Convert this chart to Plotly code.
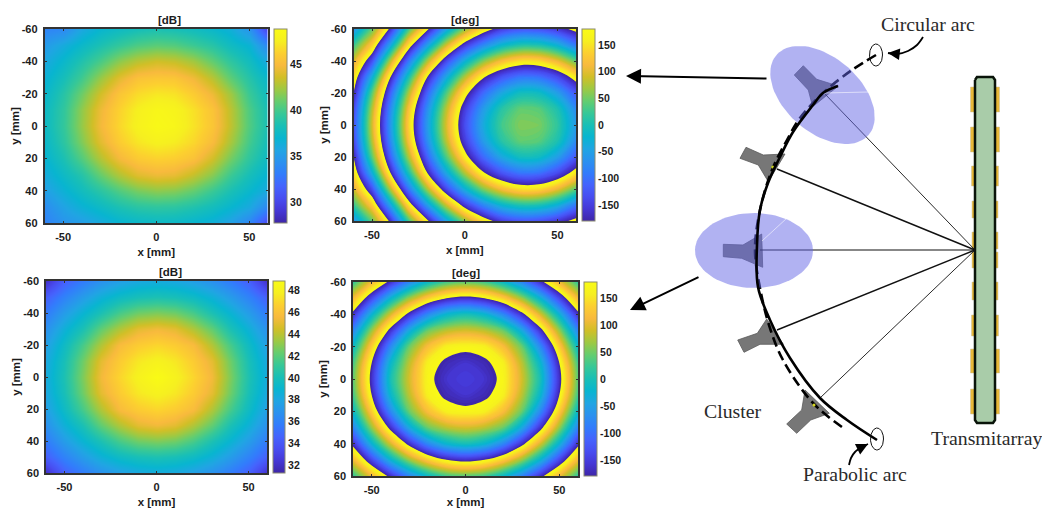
import numpy as np
import plotly.graph_objects as go

W, H = 1042, 508

# ---------- heat-map data (10 mm grid) ----------
X_MM = [-60, -50, -40, -30, -20, -10, 0, 10, 20, 30, 40, 50, 60]
Y_MM = [-60, -50, -40, -30, -20, -10, 0, 10, 20, 30, 40, 50, 60]

TOP_DB = [
    [33.5, 33.8, 35.8, 37.0, 37.6, 38.1, 38.4, 38.2, 37.8, 37.2, 36.4, 34.5, 29.5],
    [34.9, 36.1, 37.3, 38.4, 39.4, 40.2, 40.6, 40.4, 39.7, 38.9, 37.7, 36.7, 33.5],
    [35.8, 37.2, 38.6, 40.1, 41.8, 42.9, 43.5, 43.2, 42.3, 40.8, 39.2, 37.8, 35.8],
    [36.6, 38.1, 39.8, 42.1, 44.1, 45.4, 45.7, 45.6, 44.6, 42.9, 40.7, 38.8, 37.1],
    [37.1, 38.9, 41.1, 43.6, 45.6, 46.7, 47.2, 47.0, 46.0, 44.5, 42.3, 39.6, 37.7],
    [37.5, 39.3, 41.9, 44.5, 46.3, 47.6, 48.3, 48.0, 46.9, 45.5, 43.0, 40.2, 38.1],
    [37.5, 39.4, 42.0, 44.7, 46.5, 47.8, 48.5, 48.2, 47.0, 45.6, 43.1, 40.3, 38.2],
    [37.2, 39.1, 41.5, 44.1, 46.0, 47.1, 47.7, 47.4, 46.5, 45.0, 42.5, 39.9, 37.9],
    [36.8, 38.4, 40.4, 42.8, 44.8, 45.9, 46.3, 46.1, 45.4, 43.6, 41.3, 39.2, 37.5],
    [36.1, 37.5, 38.8, 40.9, 42.7, 44.0, 44.5, 44.3, 43.2, 41.7, 39.7, 38.1, 36.7],
    [35.2, 36.6, 37.8, 39.0, 40.3, 41.3, 41.8, 41.6, 40.8, 39.6, 38.3, 37.1, 35.8],
    [34.0, 35.5, 36.6, 37.5, 38.4, 39.0, 39.2, 39.1, 38.6, 37.9, 37.0, 35.9, 33.5],
    [33.4, 34.5, 35.1, 36.0, 36.8, 37.2, 37.4, 37.3, 36.9, 36.4, 35.3, 33.5, 30.0],
]
# Phase is stored unwrapped; the colour scale repeats every 360 degrees.
TOP_DEG = [
    [-1510, -1400, -1245, -1050, -908, -770, -660, -572, -510, -487, -490, -515, -558],
    [-1420, -1310, -1125, -927, -772, -632, -516, -437, -380, -353, -356, -388, -451],
    [-1350, -1215, -1000, -810, -644, -500, -390, -302, -242, -211, -214, -252, -317],
    [-1300, -1115, -900, -714, -537, -402, -283, -186, -125, -93, -97, -135, -204],
    [-1262, -1042, -834, -642, -470, -326, -200, -104, -40, -4, -8, -50, -121],
    [-1226, -1004, -794, -596, -427, -280, -151, -54, 14, 46, 41, 6, -71],
    [-1215, -990, -780, -580, -413, -265, -134, -36, 30, 59, 56, 20, -54],
    [-1226, -1004, -794, -596, -427, -280, -151, -54, 14, 46, 41, 6, -71],
    [-1262, -1042, -834, -642, -470, -326, -200, -104, -40, -4, -8, -50, -121],
    [-1300, -1115, -900, -714, -537, -402, -283, -186, -125, -93, -97, -135, -204],
    [-1350, -1215, -1000, -810, -644, -500, -390, -302, -242, -211, -214, -252, -317],
    [-1420, -1310, -1125, -927, -772, -632, -516, -437, -380, -353, -356, -388, -451],
    [-1510, -1400, -1245, -1050, -908, -770, -660, -572, -510, -487, -490, -515, -558],
]
BOTTOM_DB = [
    [32.1, 34.4, 35.7, 36.8, 37.6, 38.1, 38.3, 38.1, 37.6, 36.8, 35.7, 34.4, 32.1],
    [34.4, 36.0, 37.4, 38.6, 39.5, 40.0, 40.2, 40.0, 39.5, 38.6, 37.4, 36.0, 34.4],
    [35.7, 37.4, 38.9, 40.2, 41.6, 42.5, 42.8, 42.5, 41.6, 40.2, 38.9, 37.4, 35.7],
    [36.8, 38.6, 40.2, 42.2, 43.8, 45.0, 45.4, 45.0, 43.8, 42.2, 40.2, 38.6, 36.8],
    [37.6, 39.5, 41.6, 43.8, 45.7, 46.5, 46.9, 46.5, 45.7, 43.8, 41.6, 39.5, 37.6],
    [38.1, 40.0, 42.5, 45.0, 46.5, 47.5, 48.0, 47.5, 46.5, 45.0, 42.5, 40.0, 38.1],
    [38.3, 40.2, 42.8, 45.4, 46.9, 48.0, 48.8, 48.0, 46.9, 45.4, 42.8, 40.2, 38.3],
    [38.1, 40.0, 42.5, 45.0, 46.5, 47.5, 48.0, 47.5, 46.5, 45.0, 42.5, 40.0, 38.1],
    [37.6, 39.5, 41.6, 43.8, 45.7, 46.5, 46.9, 46.5, 45.7, 43.8, 41.6, 39.5, 37.6],
    [36.8, 38.6, 40.2, 42.2, 43.8, 45.0, 45.4, 45.0, 43.8, 42.2, 40.2, 38.6, 36.8],
    [35.7, 37.4, 38.9, 40.2, 41.6, 42.5, 42.8, 42.5, 41.6, 40.2, 38.9, 37.4, 35.7],
    [34.4, 36.0, 37.4, 38.6, 39.5, 40.0, 40.2, 40.0, 39.5, 38.6, 37.4, 36.0, 34.4],
    [32.1, 34.4, 35.7, 36.8, 37.6, 38.1, 38.3, 38.1, 37.6, 36.8, 35.7, 34.4, 32.1],
]
BOTTOM_DEG = [
    [-1064, -970, -885, -800, -734, -693, -680, -693, -734, -800, -885, -970, -1064],
    [-970, -861, -746, -654, -586, -540, -523, -540, -586, -654, -746, -861, -970],
    [-885, -746, -627, -523, -435, -379, -360, -379, -435, -523, -627, -746, -885],
    [-800, -654, -523, -398, -311, -278, -266, -278, -311, -398, -523, -654, -800],
    [-734, -586, -435, -311, -240, -197, -190, -197, -240, -311, -435, -586, -734],
    [-693, -540, -379, -278, -197, -172, -160, -172, -197, -278, -379, -540, -693],
    [-680, -523, -360, -266, -190, -160, -150, -160, -190, -266, -360, -523, -680],
    [-693, -540, -379, -278, -197, -172, -160, -172, -197, -278, -379, -540, -693],
    [-734, -586, -435, -311, -240, -197, -190, -197, -240, -311, -435, -586, -734],
    [-800, -654, -523, -398, -311, -278, -266, -278, -311, -398, -523, -654, -800],
    [-885, -746, -627, -523, -435, -379, -360, -379, -435, -523, -627, -746, -885],
    [-970, -861, -746, -654, -586, -540, -523, -540, -586, -654, -746, -861, -970],
    [-1064, -970, -885, -800, -734, -693, -680, -693, -734, -800, -885, -970, -1064],
]
TOP_DB_RANGE = [27.7, 48.8]
BOTTOM_DB_RANGE = [31.3, 48.85]
DEG_RANGE = [-180, 180]
TOP_DB_TICKS = [30, 35, 40, 45]
BOTTOM_DB_TICKS = [32, 34, 36, 38, 40, 42, 44, 46, 48]
DEG_TICKS = [-150, -100, -50, 0, 50, 100, 150]
X_TICKS = [-50, 0, 50]
Y_TICKS = [-60, -40, -20, 0, 20, 40, 60]

PARULA = [
    (0.2422, 0.1504, 0.6603), (0.2706, 0.2147, 0.8364), (0.2813, 0.3006, 0.9414),
    (0.2699, 0.3892, 0.9906), (0.1963, 0.4847, 0.9892), (0.1687, 0.5703, 0.9359),
    (0.1248, 0.6459, 0.8883), (0.0297, 0.7082, 0.8163), (0.0964, 0.7500, 0.7120),
    (0.2161, 0.7843, 0.5923), (0.3909, 0.8029, 0.4354), (0.6174, 0.7876, 0.2612),
    (0.8203, 0.7498, 0.1535), (0.9728, 0.7298, 0.2394), (0.9892, 0.8136, 0.1885),
    (0.9628, 0.9373, 0.1265), (0.9769, 0.9839, 0.0805),
]
PARULA_RGB = [f"rgb({r*255:.0f},{g*255:.0f},{b*255:.0f})" for r, g, b in PARULA]
N = len(PARULA_RGB) - 1
PARULA_SCALE = [[i / N, c] for i, c in enumerate(PARULA_RGB)]

CYCLES = 5
UNWRAP_RANGE = [-180 - 360 * (CYCLES - 1), 180]
LEVEL_STEP = 5
CYCLIC_SCALE = []
for k in range(CYCLES):
    for i, c in enumerate(PARULA_RGB):
        CYCLIC_SCALE.append([(k + i / N) / CYCLES, c])

# ---------- panel boxes in page pixels: left, right, top, bottom, cb left, cb right ----------
BOX_TL = (44.5, 268, 29, 223, 274, 286.5)
BOX_TR = (353.5, 576, 29, 221, 582, 595)
BOX_BL = (46, 267, 281, 473, 273, 285)
BOX_BR = (353, 578, 282, 476, 584, 597)

FONT = "Liberation Sans"
INK = "#1c1c1c"
AX_FONT = dict(family=FONT, size=11, color=INK, weight=700)
TITLE_FONT = dict(family=FONT, size=11.5, color=INK, weight=700)

fig = go.Figure()


def hy(values):
    return [str(v) for v in values]


def colorbar(box, ticks):
    l, r, t, b, cl, cr = box
    return dict(
        x=cl / W, xanchor="left", xpad=0, y=1 - b / H, yanchor="bottom", ypad=0,
        len=(b - t) / H, lenmode="fraction", thickness=cr - cl, thicknessmode="pixels",
        tickmode="array", tickvals=ticks, ticktext=hy(ticks), ticks="",
        tickfont=dict(family=FONT, size=10.5, color=INK, weight=700),
        outlinecolor="#8a8a70", outlinewidth=1,
    )


def panel(idx, box, z, title, zrange, ticks, cyclic):
    l, r, t, b, cl, cr = box
    xa, ya = f"x{idx}", f"y{idx}"
    if cyclic:
        fig.add_trace(go.Heatmap(
            x=[X_MM[0], X_MM[-1]], y=[Y_MM[0], Y_MM[-1]], z=[[zrange[0], zrange[1]], [zrange[0], zrange[1]]],
            zmin=zrange[0], zmax=zrange[1], colorscale=PARULA_SCALE, hoverinfo="skip",
            colorbar=colorbar(box, ticks), xaxis=xa, yaxis=ya))
        fig.add_trace(go.Contour(
            x=X_MM, y=Y_MM, z=z, autocontour=False,
            contours=dict(start=UNWRAP_RANGE[0], end=UNWRAP_RANGE[1], size=LEVEL_STEP, coloring="fill", showlines=False),
            line=dict(width=0, smoothing=1), colorscale=CYCLIC_SCALE, showscale=False,
            hoverinfo="skip", xaxis=xa, yaxis=ya))
    else:
        fig.add_trace(go.Heatmap(
            x=X_MM, y=Y_MM, z=z, zmin=zrange[0], zmax=zrange[1], zsmooth="best",
            colorscale=PARULA_SCALE, hoverinfo="skip",
            colorbar=colorbar(box, ticks), xaxis=xa, yaxis=ya))
    common = dict(
        showline=True, linecolor="#333333", linewidth=1.5, mirror="ticks", ticks="inside",
        ticklen=2.5, tickwidth=1, tickcolor="#333333", showgrid=False, zeroline=False,
        tickfont=AX_FONT, fixedrange=True,
    )
    fig.update_layout(**{
        f"xaxis{idx}": dict(common, domain=[l / W, r / W], anchor=ya, range=[-60, 60], tickmode="array",
                            tickvals=X_TICKS, ticktext=hy(X_TICKS), tickangle=0, ticklabelstandoff=3,
                            title=dict(text="x [mm]", font=TITLE_FONT, standoff=6)),
        f"yaxis{idx}": dict(common, domain=[1 - b / H, 1 - t / H], anchor=xa, range=[60, -60], tickmode="array",
                            tickvals=Y_TICKS, ticktext=hy(Y_TICKS), ticklabelstandoff=3,
                            title=dict(text="y [mm]", font=TITLE_FONT, standoff=0)),
    })
    fig.add_annotation(xref="paper", yref="paper", x=(l + r) / 2 / W, y=1 - (t - 1) / H, yanchor="bottom",
                       showarrow=False, text=title, font=TITLE_FONT)


panel(1, BOX_TL, TOP_DB, "[dB]", TOP_DB_RANGE, TOP_DB_TICKS, False)
panel(2, BOX_TR, TOP_DEG, "[deg]", DEG_RANGE, DEG_TICKS, True)
panel(3, BOX_BL, BOTTOM_DB, "[dB]", BOTTOM_DB_RANGE, BOTTOM_DB_TICKS, False)
panel(4, BOX_BR, BOTTOM_DEG, "[deg]", DEG_RANGE, DEG_TICKS, True)

# ---------- schematic, drawn on a full-page axis in page pixels ----------
FOCUS = (975, 250)
FEED_POINTS = [(824, 93), (777, 169), (760, 250), (777, 330), (820, 398)]
FEED_WIDTHS = [0.9, 1.4, 1.2, 1.4, 0.9]
PARABOLIC_X = [838, 823, 813, 793, 780, 768, 760, 757, 758, 770, 790, 820, 847, 877]
PARABOLIC_Y = [86, 93, 105, 132, 157, 183, 210, 245, 287, 320, 358, 398, 420, 440]
CIRCULAR_X = [876, 852, 823, 800, 787, 772, 760, 755, 760, 769, 783, 813, 842]
CIRCULAR_Y = [55, 70, 93, 118, 140, 170, 210, 250, 288, 325, 360, 403, 427]
HORNS = [
    [(803.3, 65.7), (816.7, 79.3), (838.3, 86), (812.7, 106.7), (808.3, 90), (794.3, 75)],
    [(746, 147.3), (740, 158.3), (758.3, 165), (768.3, 181.7), (785, 154), (763.3, 155)],
    [(723.3, 244.3), (743, 245), (761.7, 234), (762.7, 267.3), (741.7, 258.3), (723.3, 256.7)],
    [(737.7, 340), (744, 352.3), (760, 344.3), (783.3, 344.3), (766.7, 319), (757.3, 333.3)],
    [(786.7, 424), (796.7, 433.3), (810.7, 420), (829.3, 413.3), (805, 390), (801.7, 410)],
]
PATCH_ROWS = [(87, 112, 4.5), (127, 152, 4.5), (166, 186, 3.5), (201, 218, 3), (232, 249, 3),
              (252, 268, 3), (282, 300, 3), (315, 336, 3.5), (349, 373, 4.5), (389, 414, 4.5)]
BOARD_X = [975, 977, 993, 995, 995, 993, 977, 975, 975]
BOARD_Y = [80, 77, 77, 80, 420, 423, 423, 420, 80]
BEAMS = [(822.5, 95, 61, 37.6, 41), (754, 250.5, 59, 37.5, 0)]  # cx, cy, a, b, tilt
BEAM_SHEEN = [[(824, 93), (868, 92)], [(762, 241), (787, 218)]]
SMALL_RINGS = [(876, 55, 6.5, 11), (877, 439, 6.5, 11)]
DOTS = [(772.7, 167, "#c8d020"), (814, 405, "#d8d820"), (824, 93, "#f0f0ff")]
LABELS = [("Circular arc", 928, 24), ("Cluster", 733, 411), ("Transmitarray", 986, 438), ("Parabolic arc", 854.5, 474)]
BIG_ARROWS = [((768, 78.5), (626, 76)), ((700, 276.5), (630, 310))]
CURVED_X = [[923, 917, 908, 897, 888], [849, 851, 855, 862, 868]]
CURVED_Y = [[37, 45, 51, 54, 53], [465, 458, 452, 447, 444]]

SK = dict(xaxis="x5", yaxis="y5", showlegend=False, hoverinfo="skip")


def poly(xs, ys, fill, line="rgba(0,0,0,0)", width=0):
    fig.add_trace(go.Scatter(x=xs, y=ys, mode="lines", fill="toself", fillcolor=fill,
                             line=dict(color=line, width=width), **SK))


def ellipse_xy(cx, cy, a, b, tilt):
    t = np.linspace(0, 2 * np.pi, 90)
    c, s = np.cos(np.radians(tilt)), np.sin(np.radians(tilt))
    return (cx + a * np.cos(t) * c - b * np.sin(t) * s, cy + a * np.cos(t) * s + b * np.sin(t) * c)


# patches on both faces of the board
for top, bot, depth in PATCH_ROWS:
    poly([975 - depth, 975, 975, 975 - depth, 975 - depth], [top, top, bot, bot, top], "#e8b93a", "#c9c0a0", 0.5)
    poly([995, 995 + depth, 995 + depth, 995, 995], [top, top, bot, bot, top], "#e8b93a", "#c9c0a0", 0.5)
poly(BOARD_X, BOARD_Y, "#a9cca9", "#0a140a", 2.5)

# horns and feed lines
for h in HORNS:
    xs = [p[0] for p in h] + [h[0][0]]
    ys = [p[1] for p in h] + [h[0][1]]
    poly(xs, ys, "#777777", "#5a5a5a", 0.8)
for (px, py), w in zip(FEED_POINTS, FEED_WIDTHS):
    fig.add_trace(go.Scatter(x=[px, FOCUS[0]], y=[py, FOCUS[1]], mode="lines",
                             line=dict(color="#111111", width=w), **SK))
fig.add_trace(go.Scatter(x=CIRCULAR_X, y=CIRCULAR_Y, mode="lines",
                         line=dict(color="#000000", width=2.6, dash="10px,5px", shape="spline"), **SK))
for x, y, c in DOTS:
    fig.add_trace(go.Scatter(x=[x], y=[y], mode="markers", marker=dict(size=3, color=c), **SK))

# translucent beams
for cx, cy, a, b, tilt in BEAMS:
    ex, ey = ellipse_xy(cx, cy, a, b, tilt)
    poly(ex, ey, "rgba(100,102,230,0.5)")
for seg in BEAM_SHEEN:
    fig.add_trace(go.Scatter(x=[p[0] for p in seg], y=[p[1] for p in seg], mode="lines",
                             line=dict(color="rgba(255,255,255,0.7)", width=0.8), **SK))

fig.add_trace(go.Scatter(x=PARABOLIC_X, y=PARABOLIC_Y, mode="lines",
                         line=dict(color="#000000", width=2.6, shape="spline"), **SK))
for cx, cy, rx, ry in SMALL_RINGS:
    ex, ey = ellipse_xy(cx, cy, rx, ry, 0)
    fig.add_trace(go.Scatter(x=ex, y=ey, mode="lines", line=dict(color="#111111", width=1), **SK))
for xs, ys in zip(CURVED_X, CURVED_Y):
    fig.add_trace(go.Scatter(x=xs, y=ys, mode="lines", line=dict(color="#000000", width=1.8, shape="spline"), **SK))
    fig.add_annotation(xref="x5", yref="y5", axref="x5", ayref="y5", x=xs[-1], y=ys[-1], ax=xs[-2], ay=ys[-2],
                       text="", showarrow=True, arrowhead=2, arrowsize=1.3, arrowwidth=1.8, arrowcolor="#000000")
for (x0, y0), (x1, y1) in BIG_ARROWS:
    fig.add_annotation(xref="x5", yref="y5", axref="x5", ayref="y5", x=x1, y=y1, ax=x0, ay=y0,
                       text="", showarrow=True, arrowhead=2, arrowsize=1.5, arrowwidth=2, arrowcolor="#000000")
for text, x, y in LABELS:
    fig.add_annotation(xref="x5", yref="y5", x=x, y=y, text=text, showarrow=False,
                       font=dict(family="Liberation Serif", size=19.8, color="#2a2a2a"))

fig.update_layout(
    width=W, height=H, margin=dict(l=0, r=0, t=0, b=0, autoexpand=False), paper_bgcolor="white",
    plot_bgcolor="rgba(0,0,0,0)", showlegend=False,
    xaxis5=dict(domain=[0, 1], range=[0, W], visible=False, fixedrange=True, anchor="y5"),
    yaxis5=dict(domain=[0, 1], range=[H, 0], visible=False, fixedrange=True, anchor="x5"),
)
fig.write_html("out.html", config=dict(displayModeBar=False),
               post_script="document.body.style.margin='0';")
